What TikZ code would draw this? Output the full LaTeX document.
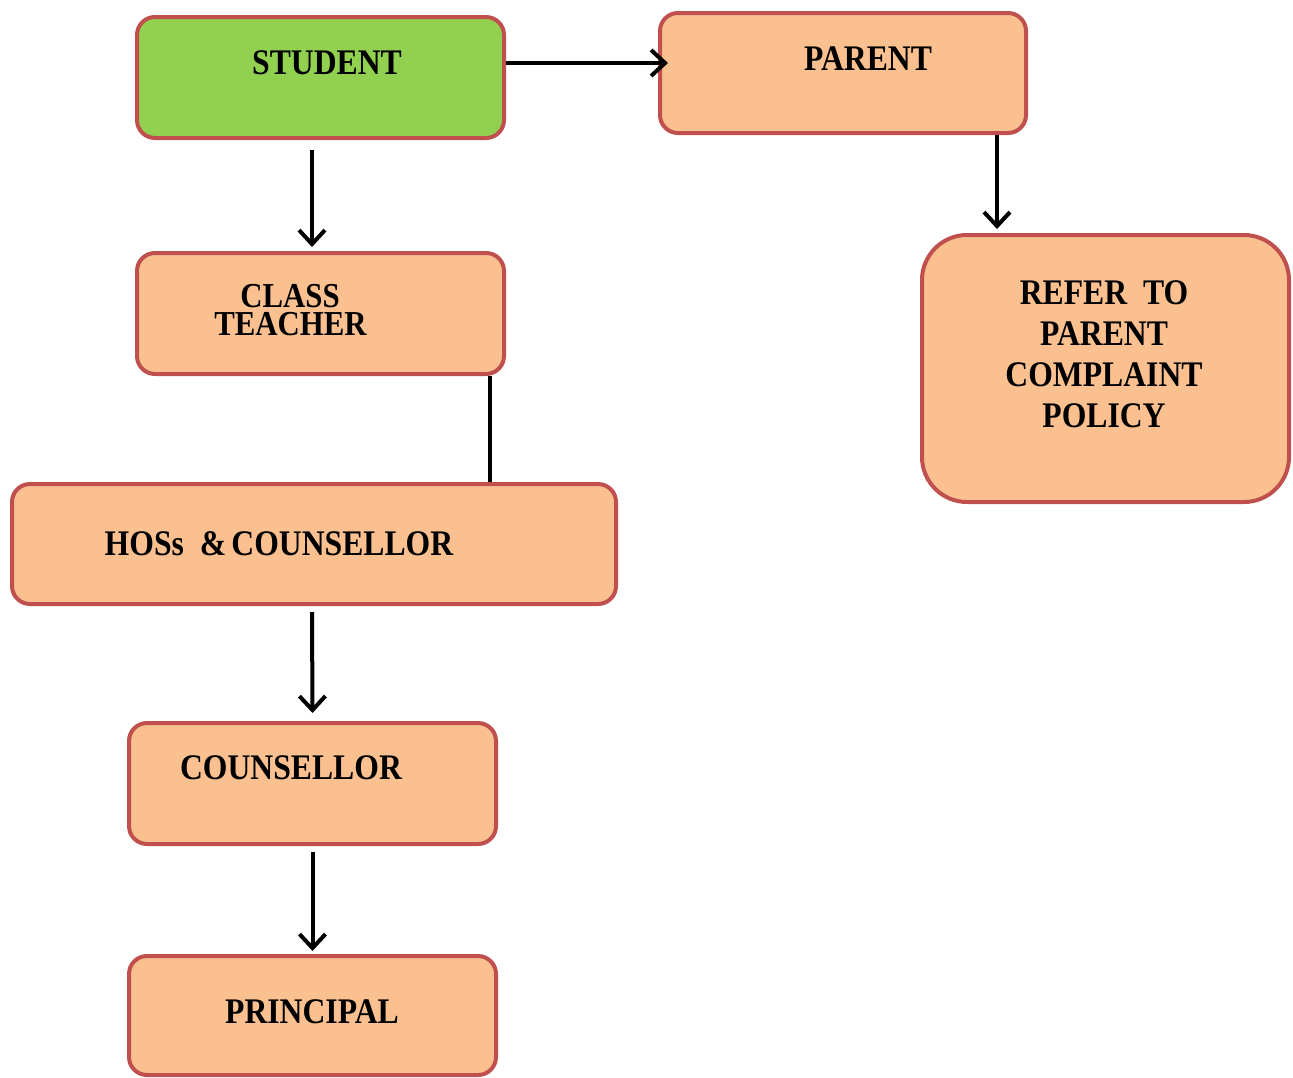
\documentclass[tikz,border=0pt]{standalone}
\usepackage{graphicx}
\usepackage{fontspec}
\setmainfont{Liberation Serif}
\usetikzlibrary{arrows.meta}
\definecolor{boxfill}{HTML}{FAC090}
\definecolor{greenfill}{HTML}{92D050}
\definecolor{boxline}{HTML}{C0504D}
\newcommand\sqz[1]{\scalebox{0.88}[1]{#1}}
\tikzset{
  box/.style={draw=boxline, line width=4pt, fill=boxfill, rounded corners=18pt, inner sep=0pt},
  lbl/.style={inner sep=0pt, font=\bfseries\fontsize{36}{40}\selectfont, text=black},
  arr/.style={line width=4pt, -{Straight Barb[length=14pt,width=26pt,line width=4pt]}},
  conn/.style={line width=4pt}
}
\begin{document}
\begin{tikzpicture}[x=1pt,y=-1pt]
\useasboundingbox (0,0) rectangle (1293,1077);
% boxes
\node[box, fill=greenfill, minimum width=367pt, minimum height=121pt] (student) at (320.5,77.5) {};
\node[box, minimum width=366pt, minimum height=120pt] (parent) at (843,73) {};
\node[box, minimum width=367pt, minimum height=121pt] (teacher) at (320.5,313.5) {};
\node[box, rounded corners=45pt, minimum width=367pt, minimum height=267pt] (refer) at (1105.5,368.5) {};
\node[box, minimum width=604pt, minimum height=120pt] (hos) at (314,544) {};
\node[box, minimum width=367pt, minimum height=121pt] (couns) at (312.5,783.5) {};
\node[box, minimum width=367pt, minimum height=119pt] (principal) at (312.5,1015.5) {};
% labels
\node[lbl] (tstudent) at (327,63) {\sqz{STUDENT}};
\node[lbl] (tparent) at (868,59) {\sqz{PARENT}};
\node[lbl, font=\bfseries\fontsize{35}{36}\selectfont] (tclass) at (290,296) {\sqz{CLASS}};
\node[lbl, font=\bfseries\fontsize{35}{36}\selectfont] (tteacher) at (290.5,324.5) {\sqz{TEACHER}};
\node[lbl, align=center, font=\bfseries\fontsize{36}{41}\selectfont] (trefer) at (1104,354) {\sqz{REFER\ \ TO}\\\sqz{PARENT}\\\sqz{COMPLAINT}\\\sqz{POLICY}};
\node[lbl] (thos) at (279,544) {\sqz{HOSs\ \ \&\,COUNSELLOR}};
\node[lbl] (tcouns) at (291,768) {\sqz{COUNSELLOR}};
\node[lbl] (tprincipal) at (312,1012) {\sqz{PRINCIPAL}};
% connectors
\draw[arr] ([yshift=14.5pt]student.east) -- ([shift={(10pt,10pt)}]parent.west);
\draw[arr] ([shift={(-8.5pt,-10pt)}]student.south) -- ([shift={(-8.5pt,4pt)}]teacher.north);
\draw[arr] ([xshift=154pt]parent.south) -- ([shift={(-108.5pt,4pt)}]refer.north);
\coordinate (tcorner) at ([xshift=-16pt]teacher.south east);
\draw[conn] (tcorner) -- (tcorner |- hos.north);
\draw[arr] ([shift={(-2pt,-6pt)}]hos.south) -- ([yshift=8pt]couns.north);
\draw[arr] ([yshift=-6pt]couns.south) -- ([yshift=3pt]principal.north);
\end{tikzpicture}
\end{document}
